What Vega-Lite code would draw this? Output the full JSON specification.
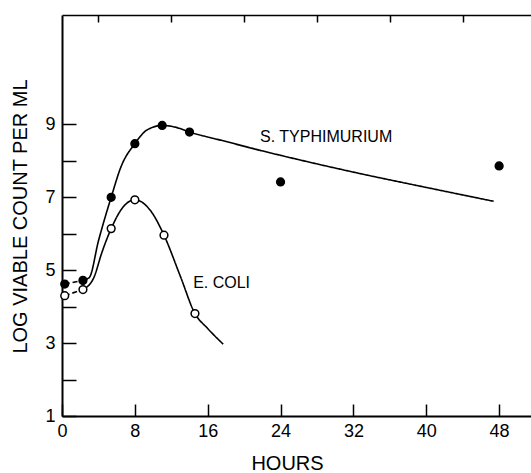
{
  "$schema": "https://vega.github.io/schema/vega-lite/v6.json",
  "width": 469,
  "height": 401,
  "autosize": "none",
  "padding": {"left": 62, "top": 15, "right": 0, "bottom": 57},
  "background": "white",
  "config": {
    "view": {"stroke": null},
    "font": "Liberation Sans",
    "axis": {"grid": false, "domainColor": "black", "tickColor": "black", "labelColor": "black", "titleColor": "black", "labelFont": "Liberation Sans", "titleFont": "Liberation Sans", "titleFontWeight": "normal"}
  },
  "datasets": {
    "curves": [
      {"seg": "S-dash", "dash": "dashed", "hour": 0.3, "value": 4.62},
      {"seg": "S-dash", "dash": "dashed", "hour": 2.3, "value": 4.72},
      {"seg": "S-solid", "dash": "solid", "hour": 2.3, "value": 4.72},
      {"seg": "S-solid", "dash": "solid", "hour": 3.0, "value": 4.8},
      {"seg": "S-solid", "dash": "solid", "hour": 4.0, "value": 5.8},
      {"seg": "S-solid", "dash": "solid", "hour": 5.4, "value": 7.0},
      {"seg": "S-solid", "dash": "solid", "hour": 6.5, "value": 7.85},
      {"seg": "S-solid", "dash": "solid", "hour": 8, "value": 8.47},
      {"seg": "S-solid", "dash": "solid", "hour": 9.3, "value": 8.84},
      {"seg": "S-solid", "dash": "solid", "hour": 11, "value": 8.97},
      {"seg": "S-solid", "dash": "solid", "hour": 12.5, "value": 8.92},
      {"seg": "S-solid", "dash": "solid", "hour": 14, "value": 8.79},
      {"seg": "S-solid", "dash": "solid", "hour": 18, "value": 8.53},
      {"seg": "S-solid", "dash": "solid", "hour": 21.7, "value": 8.29},
      {"seg": "S-solid", "dash": "solid", "hour": 24, "value": 8.15},
      {"seg": "S-solid", "dash": "solid", "hour": 32, "value": 7.69},
      {"seg": "S-solid", "dash": "solid", "hour": 40, "value": 7.27},
      {"seg": "S-solid", "dash": "solid", "hour": 47.4, "value": 6.89},
      {"seg": "E-dash", "dash": "dashed", "hour": 0.3, "value": 4.3},
      {"seg": "E-dash", "dash": "dashed", "hour": 2.3, "value": 4.47},
      {"seg": "E-solid", "dash": "solid", "hour": 2.3, "value": 4.47},
      {"seg": "E-solid", "dash": "solid", "hour": 3.5, "value": 4.8},
      {"seg": "E-solid", "dash": "solid", "hour": 4.4, "value": 5.5},
      {"seg": "E-solid", "dash": "solid", "hour": 5.4, "value": 6.14},
      {"seg": "E-solid", "dash": "solid", "hour": 6.7, "value": 6.73},
      {"seg": "E-solid", "dash": "solid", "hour": 8, "value": 6.93},
      {"seg": "E-solid", "dash": "solid", "hour": 9.7, "value": 6.64},
      {"seg": "E-solid", "dash": "solid", "hour": 11.2, "value": 5.96},
      {"seg": "E-solid", "dash": "solid", "hour": 13, "value": 4.83},
      {"seg": "E-solid", "dash": "solid", "hour": 14.6, "value": 3.81},
      {"seg": "E-solid", "dash": "solid", "hour": 16, "value": 3.4},
      {"seg": "E-solid", "dash": "solid", "hour": 17.7, "value": 2.97}
    ],
    "points": [
      {"series": "S. typhimurium", "hour": 0.3, "value": 4.62},
      {"series": "S. typhimurium", "hour": 2.3, "value": 4.72},
      {"series": "S. typhimurium", "hour": 5.4, "value": 7.0},
      {"series": "S. typhimurium", "hour": 8, "value": 8.47},
      {"series": "S. typhimurium", "hour": 11, "value": 8.97},
      {"series": "S. typhimurium", "hour": 14, "value": 8.79},
      {"series": "S. typhimurium", "hour": 24, "value": 7.42},
      {"series": "S. typhimurium", "hour": 48, "value": 7.86},
      {"series": "E. coli", "hour": 0.3, "value": 4.3},
      {"series": "E. coli", "hour": 2.3, "value": 4.47},
      {"series": "E. coli", "hour": 5.4, "value": 6.14},
      {"series": "E. coli", "hour": 8, "value": 6.93},
      {"series": "E. coli", "hour": 11.2, "value": 5.96},
      {"series": "E. coli", "hour": 14.6, "value": 3.81}
    ],
    "labels": [
      {"label": "S. TYPHIMURIUM", "hour": 21.75, "value": 8.64},
      {"label": "E. COLI", "hour": 14.4, "value": 4.64}
    ]
  },
  "encoding": {
    "y": {
      "field": "value", "type": "quantitative",
      "scale": {"domain": [1, 12], "nice": false, "zero": false},
      "axis": {
        "values": [1, 2, 3, 4, 5, 6, 7, 8, 9],
        "labelExpr": "datum.value % 2 == 1 ? datum.label : ''",
        "tickSize": -14, "tickWidth": 1.5, "domainWidth": 2,
        "labelFontSize": 18, "labelPadding": 21,
        "title": "LOG VIABLE COUNT PER ML",
        "titleFontSize": 20, "titleX": -36, "titleY": 201,
        "titleBaseline": "alphabetic", "titleAngle": -90, "titleAlign": "center"
      }
    }
  },
  "layer": [
    {
      "data": {"name": "curves"},
      "mark": {"type": "line", "interpolate": "monotone", "color": "black", "strokeWidth": 1.6},
      "encoding": {
        "x": {
          "field": "hour", "type": "quantitative",
          "scale": {"domain": [0, 51.5], "nice": false, "zero": false},
          "axis": {
            "values": [0, 8, 16, 24, 32, 40, 48],
            "tickSize": -12, "tickWidth": 1.5, "domainWidth": 2,
            "labelFontSize": 18, "labelPadding": 18, "labelFlush": false,
            "title": "HOURS", "titleFontSize": 20,
            "titleX": 225, "titleY": 53, "titleBaseline": "alphabetic", "titleAlign": "center"
          }
        },
        "detail": {"field": "seg"},
        "strokeDash": {"field": "dash", "type": "nominal", "scale": {"domain": ["solid", "dashed"], "range": [[1, 0], [5, 3]]}, "legend": null}
      }
    },
    {
      "data": {"name": "points"},
      "mark": {"type": "point", "shape": "circle", "filled": true, "stroke": "black", "strokeWidth": 1.5, "size": 60, "opacity": 1},
      "encoding": {
        "x": {
          "field": "hour", "type": "quantitative",
          "scale": {"domain": [0, 51.5], "nice": false, "zero": false},
          "axis": {
            "values": [4, 12, 20, 28, 36, 44],
            "tickSize": -7, "tickWidth": 1.5, "domain": false,
            "labels": false, "title": null
          }
        },
        "fill": {"field": "series", "type": "nominal", "scale": {"domain": ["S. typhimurium", "E. coli"], "range": ["black", "white"]}, "legend": null}
      }
    },
    {
      "data": {"name": "labels"},
      "mark": {"type": "text", "align": "left", "baseline": "middle", "font": "Liberation Sans", "fontSize": 16, "color": "black"},
      "encoding": {
        "x": {
          "field": "hour", "type": "quantitative",
          "scale": {"domain": [0, 51.5], "nice": false, "zero": false},
          "axis": {"orient": "top", "ticks": false, "labels": false, "title": null, "domainWidth": 1.5}
        },
        "text": {"field": "label"}
      }
    }
  ],
  "resolve": {"axis": {"x": "independent"}}
}
